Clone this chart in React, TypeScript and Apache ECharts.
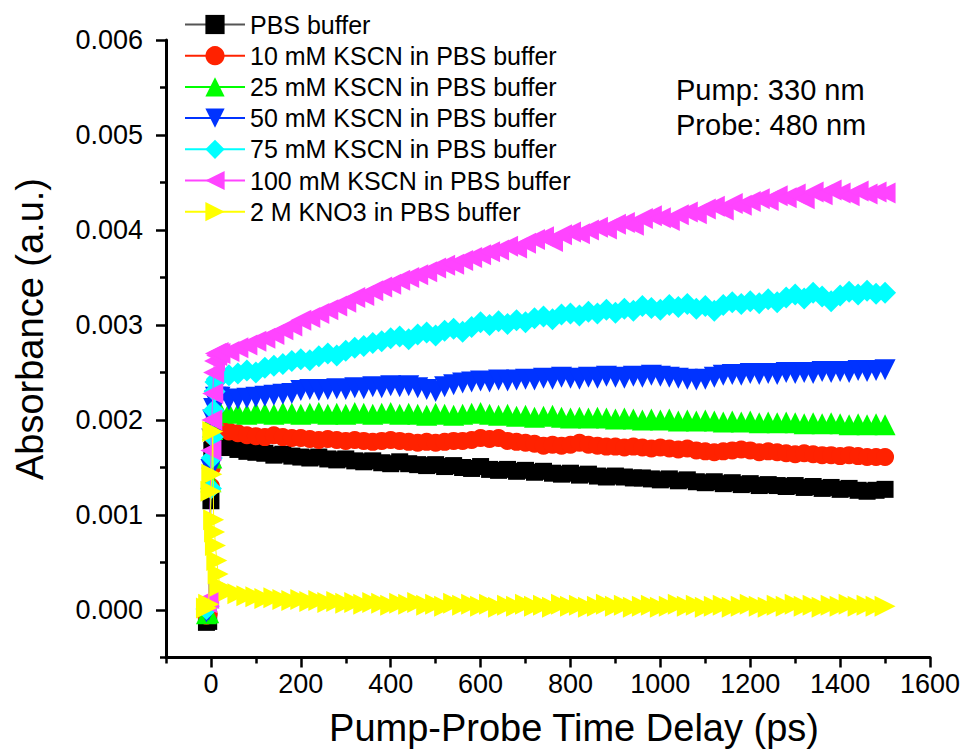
import React, { useEffect, useRef } from 'react';
import * as echarts from 'echarts';

const timeDelay = [
  -10, -5, 0, 2, 4, 6, 8, 10, 13, 16,
  20, 40, 60, 80, 100, 120, 140, 160, 180, 200,
  220, 240, 260, 280, 300, 320, 340, 360, 380, 400,
  420, 440, 460, 480, 500, 520, 540, 560, 580, 600,
  620, 640, 660, 680, 700, 720, 740, 760, 780, 800,
  820, 840, 860, 880, 900, 920, 940, 960, 980, 1000,
  1020, 1040, 1060, 1080, 1100, 1120, 1140, 1160, 1180, 1200,
  1220, 1240, 1260, 1280, 1300, 1320, 1340, 1360, 1380, 1400,
  1420, 1440, 1460, 1480, 1500,
];

const seriesNames = [
  'PBS buffer',
  '10 mM KSCN in PBS buffer',
  '25 mM KSCN in PBS buffer',
  '50 mM KSCN in PBS buffer',
  '75 mM KSCN in PBS buffer',
  '100 mM KSCN in PBS buffer',
  '2 M KNO3 in PBS buffer',
];

const pbsBuffer = [
  -0.00013, -0.00012, 0.00115, 0.00168, 0.00178, 0.00182, 0.00181, 0.0018, 0.00178, 0.00177,
  0.00176, 0.00171, 0.00169, 0.00167, 0.00166, 0.00165, 0.00163, 0.00164, 0.00162, 0.00161,
  0.0016, 0.00161, 0.00159, 0.00158, 0.00159, 0.00157, 0.00156, 0.00157, 0.00155, 0.00154,
  0.00156, 0.00154, 0.00153, 0.00152, 0.00153, 0.00151, 0.00152, 0.0015, 0.00149, 0.00151,
  0.00148, 0.00147, 0.00148, 0.00146, 0.00147, 0.00145, 0.00146, 0.00144, 0.00143, 0.00144,
  0.00142, 0.00143, 0.00141, 0.0014, 0.00141, 0.0014, 0.00139, 0.00139, 0.00138, 0.00137,
  0.00138, 0.00136, 0.00137, 0.00135, 0.00134, 0.00135, 0.00133, 0.00134, 0.00132, 0.00133,
  0.00131, 0.00132, 0.00131, 0.0013, 0.00131, 0.00129, 0.0013, 0.00128, 0.00129, 0.00127,
  0.00128, 0.00126, 0.00125, 0.00126, 0.00127,
];

const kscn10 = [
  -0.00006, -0.00004, 0.0013, 0.0015, 0.00183, 0.00192, 0.00196, 0.00195, 0.00193, 0.00192,
  0.00192, 0.00188, 0.00186, 0.00184, 0.00183, 0.00182, 0.00184, 0.00182, 0.00181, 0.00181,
  0.0018, 0.00179, 0.0018, 0.00179, 0.00178, 0.00179, 0.00178, 0.00177, 0.00178, 0.00179,
  0.00178, 0.00177, 0.00176, 0.00177, 0.00176, 0.00177, 0.00178, 0.00178, 0.00179, 0.00181,
  0.0018, 0.00181, 0.00178, 0.00177, 0.00176, 0.00175, 0.00173, 0.00174, 0.00173, 0.00174,
  0.00176, 0.00174, 0.00173, 0.00172, 0.00172, 0.00171, 0.00172, 0.00171, 0.0017, 0.00171,
  0.0017, 0.00169, 0.0017, 0.00168, 0.00167, 0.00166, 0.00167, 0.00168, 0.00169, 0.00168,
  0.00166, 0.00167, 0.00166, 0.00165, 0.00164, 0.00165, 0.00164, 0.00163, 0.00163, 0.00162,
  0.00163, 0.00162, 0.00161, 0.00161, 0.00161,
];

const kscn25 = [
  -0.00004, -0.00003, 0.00135, 0.0016, 0.0019, 0.00205, 0.0021, 0.00211, 0.0021, 0.00209,
  0.00209, 0.00208, 0.00207, 0.00206, 0.00208, 0.00207, 0.00206, 0.00208, 0.00207, 0.00206,
  0.00207, 0.00208, 0.00206, 0.00207, 0.00206, 0.00208, 0.00207, 0.00206, 0.00207, 0.00208,
  0.00206, 0.00207, 0.00206, 0.00205, 0.00207, 0.00206, 0.00205, 0.00206, 0.00207, 0.00208,
  0.00206, 0.00205, 0.00206, 0.00204, 0.00205, 0.00203, 0.00204, 0.00205, 0.00203, 0.00202,
  0.00203, 0.00202, 0.00203, 0.00202, 0.00201, 0.00202, 0.00201, 0.002, 0.00201, 0.002,
  0.00201, 0.00199, 0.002, 0.00199, 0.002, 0.00199, 0.00198, 0.00199, 0.00198, 0.00199,
  0.00197, 0.00198, 0.00197, 0.00198, 0.00197, 0.00196, 0.00197, 0.00196, 0.00197, 0.00196,
  0.00195, 0.00196, 0.00195, 0.00196, 0.00195,
];

const kscn50 = [
  -0.00002, 0.0, 0.00148, 0.0018, 0.002, 0.00212, 0.0022, 0.00224, 0.00223, 0.00224,
  0.00224, 0.00221, 0.00222, 0.00223, 0.00224, 0.00225, 0.00226, 0.00227, 0.00228, 0.00231,
  0.00232, 0.00231, 0.00232, 0.00233, 0.00232, 0.00234, 0.00233, 0.00235, 0.00234, 0.00236,
  0.00235, 0.00236, 0.00234, 0.00232, 0.0023, 0.00235, 0.00237, 0.00239, 0.0024, 0.00241,
  0.0024, 0.00242, 0.00241, 0.00242, 0.00243, 0.00242, 0.00244, 0.00243, 0.00245, 0.00244,
  0.00243, 0.00245, 0.00244, 0.00246, 0.00245, 0.00244, 0.00246, 0.00245, 0.00247, 0.00246,
  0.00245, 0.00244, 0.00243, 0.00242, 0.00243, 0.00245, 0.00247, 0.00248, 0.00247, 0.00249,
  0.00248, 0.00249, 0.00248, 0.0025, 0.00249, 0.0025, 0.00249, 0.00251, 0.0025, 0.00251,
  0.0025, 0.00252, 0.00251, 0.00252, 0.00253,
];

const kscn75 = [
  0.00001, 0.00004, 0.00128, 0.0016, 0.00182, 0.0021, 0.0023, 0.0024, 0.00243, 0.00244,
  0.00245, 0.00247, 0.00249, 0.00252, 0.0025, 0.00255, 0.00257, 0.00259, 0.00262, 0.00264,
  0.00263, 0.00267, 0.0027, 0.00268, 0.00273, 0.00276, 0.00278, 0.00281, 0.00283, 0.00286,
  0.00288, 0.00285, 0.0029, 0.00292, 0.00289, 0.00294, 0.00296, 0.00293, 0.00298, 0.00303,
  0.003, 0.00304, 0.00301, 0.00305, 0.00303, 0.00307, 0.00309, 0.00306, 0.00311, 0.00312,
  0.0031, 0.00314, 0.00312, 0.00316, 0.00313, 0.00317, 0.00315, 0.0032, 0.00318, 0.00316,
  0.00321, 0.00319, 0.00322, 0.00317, 0.0032, 0.00315, 0.00321, 0.00324, 0.00322, 0.00325,
  0.00323, 0.00327, 0.00324, 0.00329, 0.00332, 0.00328, 0.00334, 0.0033, 0.00325, 0.00331,
  0.00335, 0.00332, 0.00336, 0.00333, 0.00334,
];

const kscn100 = [
  0.00008, 0.00012, 0.00168, 0.002, 0.00228, 0.0025, 0.00262, 0.0027, 0.00268, 0.00271,
  0.0027, 0.00272, 0.00276, 0.00279, 0.00283, 0.00286, 0.0029, 0.00295, 0.00299, 0.00305,
  0.00308, 0.00312, 0.00316, 0.0032, 0.00324, 0.00329, 0.00331, 0.00336, 0.0034, 0.00343,
  0.00347, 0.0035, 0.00353, 0.00356, 0.0036, 0.00363, 0.00364, 0.00368, 0.00371, 0.00374,
  0.00377, 0.00379, 0.00383, 0.00381, 0.00386, 0.0039, 0.00393, 0.00388, 0.00395, 0.00398,
  0.00396, 0.004, 0.00403, 0.00401, 0.00406, 0.00408, 0.00405, 0.00412, 0.00415, 0.00413,
  0.0041, 0.00416, 0.00419, 0.00417, 0.00422, 0.00425, 0.00421, 0.00428, 0.00426, 0.0043,
  0.00433, 0.00431, 0.00436, 0.00434, 0.00438, 0.00433, 0.0044, 0.00437, 0.00442, 0.00439,
  0.00436, 0.00441, 0.00438, 0.0044, 0.00439,
];

const kno3 = [
  0.00002, 0.00006, 0.00125, 0.00143, 0.00188, 0.00095, 0.00082, 0.00068, 0.00052, 0.00038,
  0.00025, 0.0002, 0.00017, 0.00015, 0.00014, 0.00012, 0.00013, 0.00011, 0.0001, 0.00011,
  0.00009, 0.0001, 0.00008, 0.00009, 0.00007, 0.00008, 0.00006, 0.00008, 0.00007, 0.00005,
  0.00007, 0.00006, 0.00008, 0.00005, 0.00006, 0.00004, 0.00007, 0.00005, 0.00006, 0.00004,
  0.00006, 0.00003, 0.00005, 0.00004, 0.00006, 0.00004, 0.00005, 0.00003, 0.00006, 0.00004,
  0.00005, 0.00003, 0.00004, 0.00006, 0.00004, 0.00005, 0.00003, 0.00004, 0.00005, 0.00003,
  0.00004, 0.00006, 0.00004, 0.00005, 0.00003, 0.00004, 0.00005, 0.00003, 0.00004, 0.00006,
  0.00004, 0.00003, 0.00005, 0.00004, 0.00006, 0.00004, 0.00005, 0.00003, 0.00005, 0.00004,
  0.00006, 0.00004, 0.00005, 0.00004, 0.00004,
];

const xMajorTicks = [0, 200, 400, 600, 800, 1000, 1200, 1400, 1600];
const xMinorTicks = [-100, 100, 300, 500, 700, 900, 1100, 1300, 1500];
const yMajorTicks = [0, 0.001, 0.002, 0.003, 0.004, 0.005, 0.006];
const yMinorTicks = [-0.0005, 0.0005, 0.0015, 0.0025, 0.0035, 0.0045, 0.0055];

const colors = ['#000000', '#FF2200', '#00FF00', '#0033FF', '#00FFFF', '#FF44FF', '#FFFF00'];
const lineColors = ['#555555', '#FF2200', '#00FF00', '#0033FF', '#00FFFF', '#FF44FF', '#FFFF00'];
const symbols = [
  'rect',
  'circle',
  'path://M5,0L10,10L0,10Z',
  'path://M0,0L10,0L5,10Z',
  'diamond',
  'path://M10,0L10,10L0,5Z',
  'path://M0,0L10,5L0,10Z',
];
const symbolSizes = [17, 18, 21, 21, 22, 21, 21];
const allValues = [pbsBuffer, kscn10, kscn25, kscn50, kscn75, kscn100, kno3];

const FONT = '"Liberation Sans", Arial, sans-serif';

export default function App() {
  const ref = useRef<HTMLDivElement>(null);
  useEffect(() => {
    const chart = echarts.init(ref.current!, null, { renderer: 'svg' });
    const axisLineStyle = { color: '#000', width: 3 };
    const tickStyle = { color: '#000', width: 2.5 };
    const series = seriesNames.map((name, k) => ({
      name,
      type: 'line',
      data: timeDelay.map((t, i) => [t, allValues[k][i]]),
      symbol: symbols[k],
      symbolSize: symbolSizes[k],
      showSymbol: true,
      itemStyle: { color: colors[k] },
      lineStyle: { color: lineColors[k], width: 1 },
      emphasis: { disabled: true },
      z: 2 + k,
    }));
    chart.setOption({
      animation: false,
      backgroundColor: '#ffffff',
      grid: { left: 166, right: 39, top: 40, bottom: 97.5 },
      legend: {
        orient: 'vertical',
        left: 184,
        top: 12,
        padding: 0,
        itemWidth: 60,
        itemHeight: 24,
        itemGap: 6.2,
        selectedMode: false,
        textStyle: { fontSize: 25, color: '#000', fontFamily: FONT, lineHeight: 24 },
        data: seriesNames,
      },
      xAxis: [
        {
          type: 'value',
          min: -100,
          max: 1600,
          position: 'bottom',
          axisLine: { show: true, onZero: false, lineStyle: axisLineStyle },
          axisTick: { show: true, customValues: xMajorTicks, length: 10, lineStyle: tickStyle },
          axisLabel: {
            customValues: xMajorTicks,
            fontSize: 27,
            color: '#000',
            fontFamily: FONT,
            margin: 13,
            formatter: (v: number) => String(v),
          },
          splitLine: { show: false },
        },
        {
          type: 'value',
          min: -100,
          max: 1600,
          position: 'bottom',
          axisLine: { show: false, onZero: false },
          axisTick: { show: true, customValues: xMinorTicks, length: 6, lineStyle: tickStyle },
          axisLabel: { show: false },
          splitLine: { show: false },
        },
      ],
      yAxis: [
        {
          type: 'value',
          min: -0.0005,
          max: 0.006,
          position: 'left',
          axisLine: { show: true, onZero: false, lineStyle: axisLineStyle },
          axisTick: { show: true, customValues: yMajorTicks, length: 10, lineStyle: tickStyle },
          axisLabel: {
            customValues: yMajorTicks,
            fontSize: 27,
            color: '#000',
            fontFamily: FONT,
            margin: 23,
            formatter: (v: number) => v.toFixed(3),
          },
          splitLine: { show: false },
        },
        {
          type: 'value',
          min: -0.0005,
          max: 0.006,
          position: 'left',
          axisLine: { show: false, onZero: false },
          axisTick: { show: true, customValues: yMinorTicks, length: 6, lineStyle: tickStyle },
          axisLabel: { show: false },
          splitLine: { show: false },
        },
      ],
      graphic: [
        {
          type: 'text',
          x: 30,
          y: 329,
          rotation: Math.PI / 2,
          style: {
            text: 'Absorbance (a.u.)',
            fontSize: 38,
            fontFamily: FONT,
            fill: '#000',
            align: 'center',
            verticalAlign: 'middle',
          },
        },
        {
          type: 'text',
          x: 574,
          y: 728,
          style: {
            text: 'Pump-Probe Time Delay (ps)',
            fontSize: 38,
            fontFamily: FONT,
            fill: '#000',
            align: 'center',
            verticalAlign: 'middle',
          },
        },
        {
          type: 'text',
          x: 676,
          y: 90,
          style: { text: 'Pump: 330 nm', fontSize: 29, fontFamily: FONT, fill: '#000', align: 'left', verticalAlign: 'middle' },
        },
        {
          type: 'text',
          x: 676,
          y: 125,
          style: { text: 'Probe: 480 nm', fontSize: 29, fontFamily: FONT, fill: '#000', align: 'left', verticalAlign: 'middle' },
        },
      ],
      series,
    });
    return () => chart.dispose();
  }, []);
  return <div ref={ref} style={{ position: 'fixed', left: 0, top: 0, width: 969, height: 755 }} />;
}
